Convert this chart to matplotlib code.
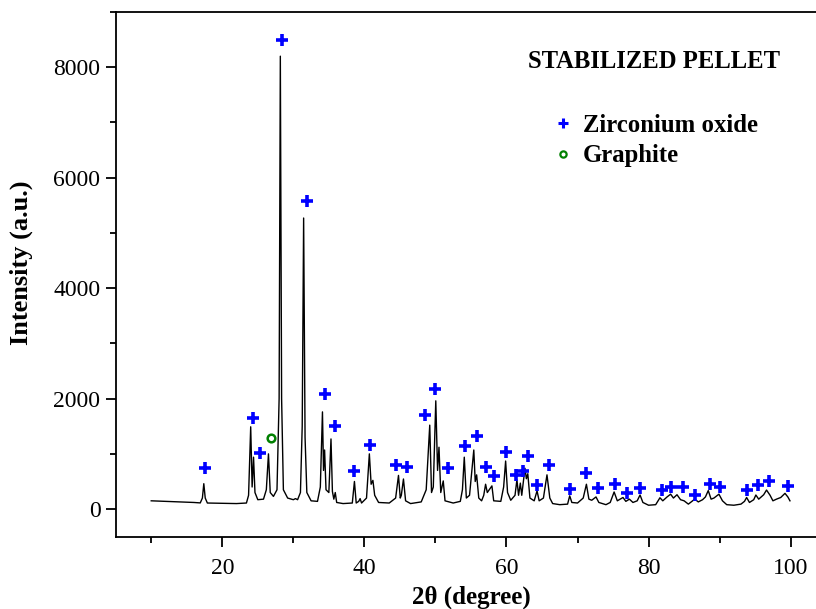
import matplotlib
matplotlib.use("Agg")
import matplotlib.pyplot as plt
from matplotlib.lines import Line2D
from matplotlib.ticker import MultipleLocator

plt.rcParams["font.family"] = ["Liberation Serif", "DejaVu Serif"]

# XRD trace (2theta in degrees, intensity a.u.)
two_theta = [
    10.0, 12.0, 14.0, 16.0, 16.9, 17.2, 17.4, 17.6, 17.9, 20.0, 22.0, 23.4,
    23.7, 24.0, 24.2, 24.4, 24.6, 25.0, 25.8, 26.2, 26.5, 26.75, 27.2, 27.7,
    28.0, 28.17, 28.35, 28.6, 29.2, 30.0, 30.3, 30.6, 31.0, 31.25, 31.45, 31.65,
    31.9, 32.5, 33.4, 33.8, 34.1, 34.25, 34.4, 34.6, 35.0, 35.3, 35.5, 35.7,
    35.9, 36.1, 37.0, 38.3, 38.6, 38.85, 39.2, 39.4, 39.6, 40.3, 40.7, 40.95,
    41.2, 41.45, 42.0, 43.5, 44.4, 44.8, 45.05, 45.2, 45.5, 45.8, 46.5, 48.0,
    48.7, 49.2, 49.45, 49.7, 50.05, 50.3, 50.5, 50.75, 51.1, 51.35, 52.5, 53.5,
    53.8, 54.06, 54.35, 54.8, 55.4, 55.6, 55.8, 56.1, 56.5, 56.8, 57.06, 57.3,
    57.95, 58.2, 59.2, 59.6, 59.88, 60.15, 60.6, 61.2, 61.47, 61.7, 61.95, 62.15,
    62.6, 62.8, 63.0, 63.3, 63.9, 64.3, 64.6, 65.2, 65.7, 66.1, 66.5, 67.5,
    68.6, 68.9, 69.2, 70.0, 70.8, 71.25, 71.6, 72.0, 72.6, 73.0, 74.0, 74.6,
    75.15, 75.6, 76.0, 76.4, 76.8, 77.3, 77.8, 78.4, 78.8, 79.2, 80.0, 81.0,
    81.6, 82.0, 82.6, 83.1, 83.5, 84.0, 84.5, 85.0, 85.6, 86.0, 86.5, 87.0,
    87.6, 88.0, 88.4, 88.8, 89.2, 89.9, 90.4, 91.0, 92.0, 93.0, 93.5, 93.8,
    94.2, 94.8, 95.1, 95.5, 96.2, 96.6, 97.1, 97.5, 98.0, 98.6, 99.2, 99.6,
    99.9,
]
intensity = [
    150, 140, 130, 120, 112, 200, 460, 200, 110, 105, 100, 110,
    250, 1490, 400, 940, 300, 170, 180, 350, 1000, 300, 230, 350,
    2000, 8200, 2000, 350, 200, 170, 190, 170, 300, 1500, 5270, 1300,
    300, 150, 140, 400, 1760, 700, 1070, 350, 300, 1270, 320, 180,
    300, 120, 100, 110, 500, 110, 140, 190, 110, 200, 1000, 450,
    520, 250, 120, 110, 200, 610, 200, 250, 545, 150, 100, 130,
    350, 1520, 300, 400, 1960, 700, 1120, 300, 510, 150, 110, 140,
    350, 940, 200, 250, 1070, 500, 620, 200, 150, 250, 450, 300,
    420, 150, 140, 400, 870, 300, 160, 250, 530, 250, 470, 250,
    740, 550, 640, 200, 150, 330, 150, 200, 620, 200, 100, 80,
    90, 240, 120, 110, 200, 450, 180, 160, 220, 120, 80, 120,
    310, 150, 180, 210, 140, 180, 120, 150, 255, 120, 70, 80,
    205, 150, 220, 270, 200, 260, 170, 150, 90, 130, 180, 130,
    170, 220, 335, 180, 200, 270, 150, 80, 70, 90, 140, 210,
    120, 170, 255, 180, 260, 345, 250, 150, 180, 210, 285, 220,
    150,
]

# phase markers
zro2_2theta = [17.5, 24.27, 25.31, 28.36, 31.9, 34.47, 35.83, 38.5, 40.76, 44.42,
               45.97, 48.6, 49.97, 51.75, 54.15, 55.8, 57.1, 58.3, 59.9, 61.3,
               62.3, 63.0, 64.25, 65.94, 68.9, 71.16, 72.85, 75.29, 76.9, 78.86,
               81.9, 83.2, 84.8, 86.56, 88.6, 90.0, 93.8, 95.4, 97.0, 99.66]
zro2_int = [738, 1655, 1020, 8502, 5584, 2085, 1505, 695, 1160, 792,
            756, 1710, 2175, 738, 1145, 1325, 761, 604, 1039, 616,
            695, 967, 435, 798, 363, 653, 381, 453, 296, 387,
            344, 405, 405, 248, 453, 405, 344, 435, 514, 417]
graphite_2theta = [26.86]
graphite_int = [1281]

fig = plt.figure(figsize=(8.16, 6.09), dpi=100)
ax = fig.add_axes([0.1418, 0.1187, 0.8707, 0.8616])

ax.plot(two_theta, intensity, color="black", lw=1.0)
ax.plot(zro2_2theta, zro2_int, ls="none", marker="+", ms=9, mew=2.6, color="#0000ff")
ax.plot(graphite_2theta, graphite_int, ls="none", marker="o", ms=5.5, mew=1.8,
        mfc="none", mec="#008000")

ax.set_xlim(5, 105)
ax.set_ylim(-500, 9000)
ax.xaxis.set_major_locator(MultipleLocator(20))
ax.xaxis.set_minor_locator(MultipleLocator(10))
ax.yaxis.set_major_locator(MultipleLocator(2000))
ax.yaxis.set_minor_locator(MultipleLocator(1000))

ax.spines["right"].set_visible(False)
for s in ax.spines.values():
    s.set_linewidth(1.3)
ax.tick_params(which="both", direction="out", top=False, right=False, width=1.3,
               labelsize=17)
ax.tick_params(which="major", length=7)
ax.tick_params(which="minor", length=4.5)
ax.tick_params(axis="x", pad=8)
ax.tick_params(axis="y", pad=4)

ax.set_xlabel("2\u03b8 (degree)", fontsize=18, fontweight="bold", labelpad=5)
ax.set_ylabel("Intensity (a.u.)", fontsize=19, fontweight="bold")
ax.yaxis.set_label_coords(-0.1164, 0.522)

ax.text(0.580, 0.906, "STABILIZED PELLET", transform=ax.transAxes, fontsize=17.7,
        fontweight="bold", ha="left", va="center")

handles = [
    Line2D([], [], ls="none", marker="+", ms=7, mew=2.2, color="#0000ff"),
    Line2D([], [], ls="none", marker="o", ms=4.5, mew=1.6, mfc="none", mec="#008000"),
]
ax.legend(handles, ["Zirconium oxide", "Graphite"], loc="upper left",
          bbox_to_anchor=(0.6748, 0.8130), bbox_transform=fig.transFigure,
          frameon=False, borderpad=0, borderaxespad=0, handlelength=1.0,
          handletextpad=0.3, labelspacing=0.3,
          prop={"size": 17.8, "weight": "bold"})

fig.savefig("out.png", dpi=100)
